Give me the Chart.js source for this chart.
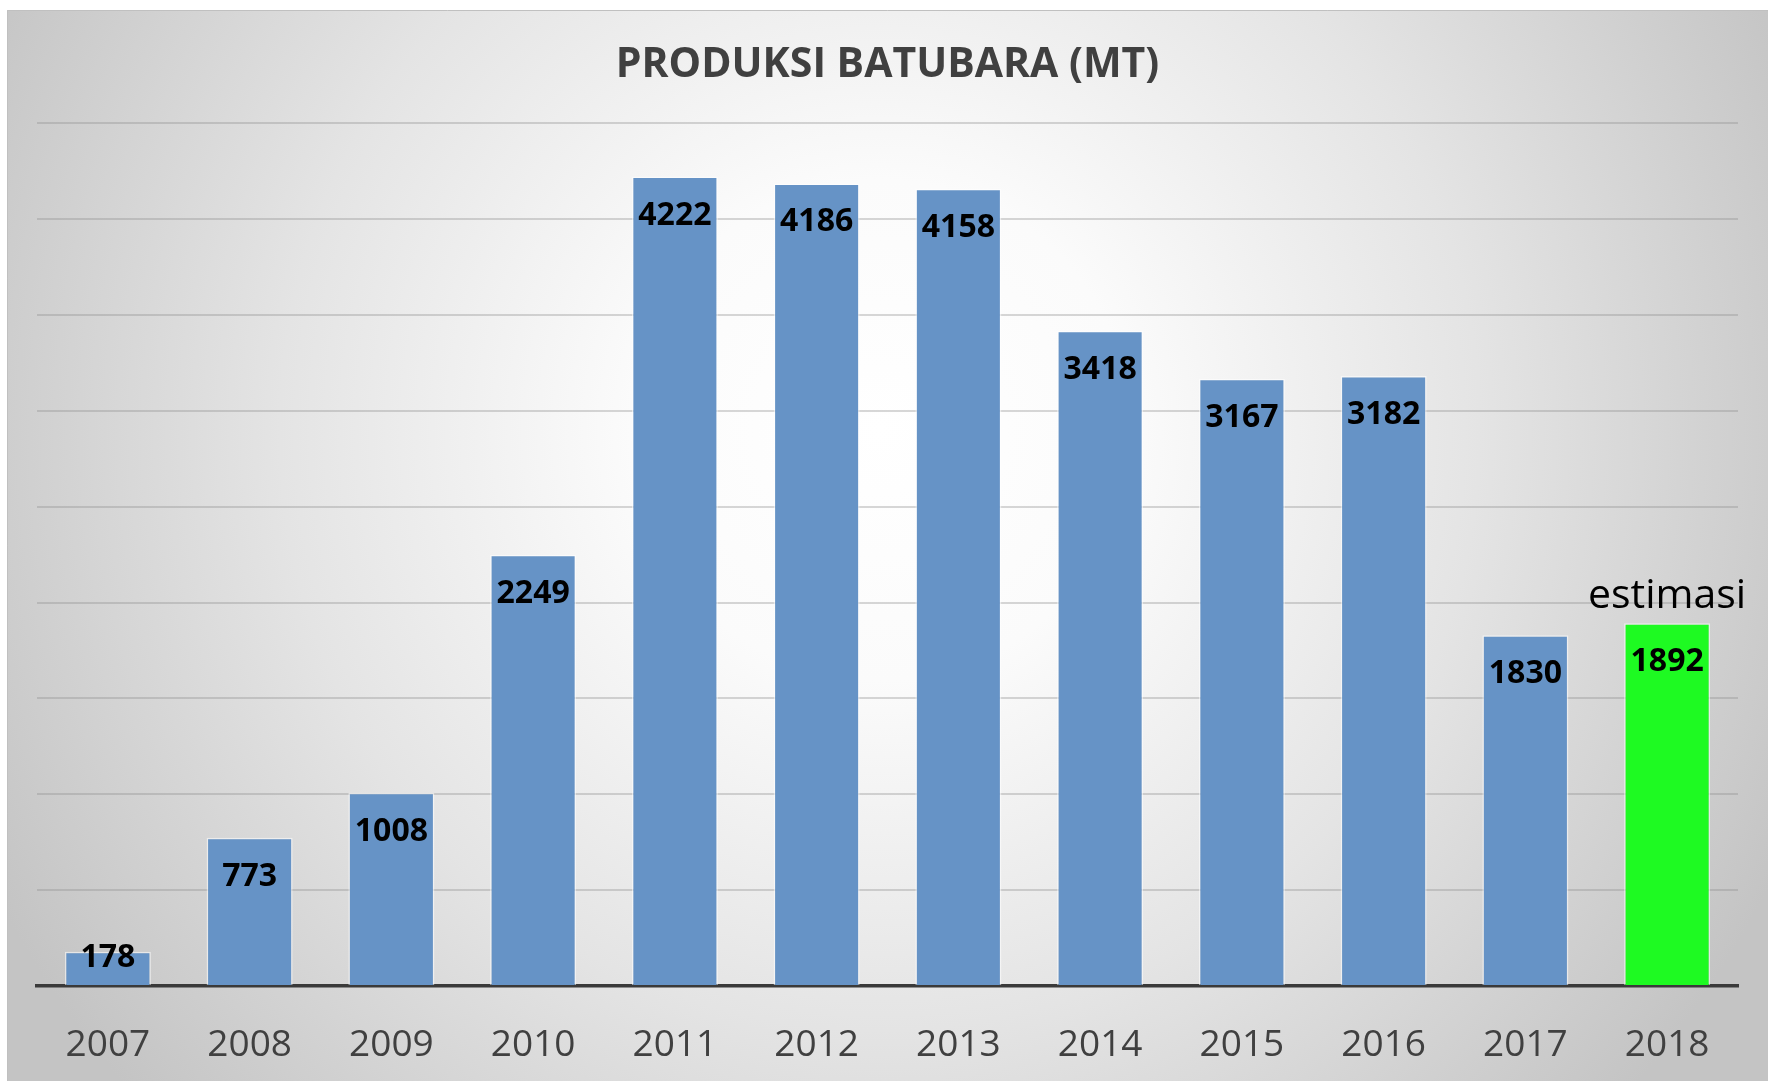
<!DOCTYPE html>
<html>
<head>
<meta charset="utf-8">
<script src="https://cdn.jsdelivr.net/npm/chart.js@4"></script>
<style>
  html, body { margin: 0; padding: 0; background: #ffffff; }
  canvas { display: block; }
</style>
</head>
<body>
<canvas id="grafica" width="1768" height="1081"></canvas>
<script>
// data
var tahun = ['2007','2008','2009','2010','2011','2012','2013','2014','2015','2016','2017','2018'];
var produksi = [178, 773, 1008, 2249, 4222, 4186, 4158, 3418, 3167, 3182, 1830, 1892];
var tahunEstimasi = '2018';
var teksEstimasi = 'estimasi';
var judul = 'PRODUKSI BATUBARA (MT)';

var biru = '#6693c6';
var hijau = '#1efa22';
var warnaBar = tahun.map(function (t) { return t === tahunEstimasi ? hijau : biru; });

// background panel with radial gradient
var latar = {
    id: 'latar',
    beforeDraw: function (chart) {
        var c = chart.ctx;
        c.save();
        c.fillStyle = '#ffffff';
        c.fillRect(0, 0, chart.width, chart.height);
        var g = c.createRadialGradient(880, 430, 0, 880, 430, 1000);
        g.addColorStop(0, '#ffffff');
        g.addColorStop(0.25, '#fbfbfb');
        g.addColorStop(0.6, '#e4e4e4');
        g.addColorStop(1, '#c4c4c4');
        c.fillStyle = g;
        c.fillRect(7, 10, chart.width - 7, chart.height - 10);
        c.strokeStyle = '#c0c0c0';
        c.lineWidth = 1;
        c.beginPath();
        c.moveTo(7.5, chart.height);
        c.lineTo(7.5, 10.5);
        c.lineTo(chart.width, 10.5);
        c.stroke();
        c.restore();
    }
};

// value labels inside the bar tops + "estimasi" note
var labelNilai = {
    id: 'labelNilai',
    afterDatasetsDraw: function (chart) {
        var c = chart.ctx;
        var meta = chart.getDatasetMeta(0);
        var dasar = chart.scales.y.getPixelForValue(0);
        c.save();
        c.textAlign = 'center';
        c.textBaseline = 'alphabetic';
        meta.data.forEach(function (bar, i) {
            c.fillStyle = '#000000';
            c.font = 'bold 32px "Open Sans"';
            var y = Math.min(bar.y + 48, dasar - 19);
            c.fillText(String(produksi[i]), bar.x, y);
            if (tahun[i] === tahunEstimasi) {
                c.font = '41px "Open Sans"';
                c.fillText(teksEstimasi, bar.x, bar.y - 15);
            }
        });
        c.restore();
    }
};

var ctx = document.getElementById('grafica').getContext('2d');
var myChart = new Chart(ctx, {
    type: 'bar',
    data: {
        labels: tahun,
        datasets: [{
            label: 'Produksi',
            data: produksi,
            backgroundColor: warnaBar,
            borderColor: 'rgba(255,255,255,0.55)',
            borderWidth: 1.5,
            categoryPercentage: 1,
            barPercentage: 0.607
        }]
    },
    options: {
        responsive: false,
        animation: false,
        devicePixelRatio: 1,
        layout: {
            padding: { left: 37, right: 30, top: 0, bottom: 0 }
        },
        plugins: {
            legend: { display: false },
            tooltip: { enabled: false },
            title: {
                display: true,
                text: judul,
                color: '#404040',
                font: { family: 'Open Sans', size: 41, weight: 'bold' },
                padding: { top: 41, bottom: 33 }
            }
        },
        scales: {
            x: {
                grid: { display: false, drawTicks: false },
                border: { display: true, color: '#3a3a3a', width: 3.5 },
                ticks: {
                    color: '#404040',
                    font: { family: 'Open Sans', size: 37 },
                    padding: 37,
                    maxRotation: 0
                },
                afterFit: function (scale) { scale.height = 95; }
            },
            y: {
                min: 0,
                max: 4500,
                ticks: { display: false, stepSize: 500 },
                grid: { color: 'rgba(140,140,140,0.35)', lineWidth: 2, drawTicks: false },
                border: { display: false },
                afterFit: function (scale) { scale.width = 0; }
            }
        }
    },
    plugins: [latar, labelNilai]
});
</script>
</body>
</html>
